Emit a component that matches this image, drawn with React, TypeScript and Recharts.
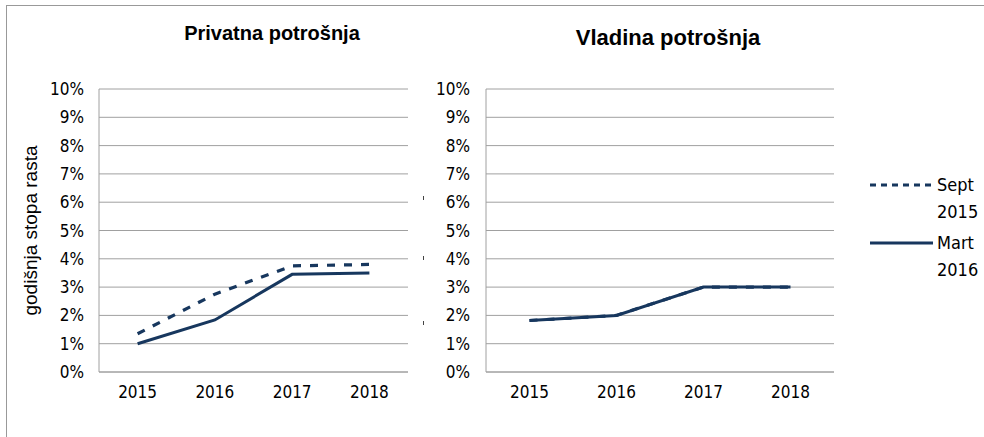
import React from 'react';
import { LineChart, Line, XAxis, YAxis, CartesianGrid } from 'recharts';

const years = ['2015', '2016', '2017', '2018'];
const yTicks = [0, 1, 2, 3, 4, 5, 6, 7, 8, 9, 10];
const privSept = [1.35, 2.75, 3.75, 3.8];
const privMart = [1.0, 1.84, 3.45, 3.5];
const vladSept = [1.82, 2.0, 3.0, 3.0];
const vladMart = [1.82, 2.0, 3.0, 3.0];
const seriesNames = ['Sept 2015', 'Mart 2016'];

const privData = years.map((y, i) => ({ year: y, sept: privSept[i], mart: privMart[i] }));
const vladData = years.map((y, i) => ({ year: y, sept: vladSept[i], mart: vladMart[i] }));

const NAVY = '#17375E';
const GRID = '#A0A0A0';
const FONT = '"Liberation Sans Narrow", "DejaVu Sans Condensed", sans-serif';
const ARIAL = '"Liberation Sans", Arial, sans-serif';
const DASH = '8 9';

const tickStyle = { fill: '#000', fontSize: 17, fontFamily: FONT };

const LegendBox = () => (
  <svg width={114} height={120} style={{ position: 'absolute', left: 870, top: 172 }}>
    {seriesNames.map((name, i) => {
      const y = 13 + i * 58;
      const parts = name.split(' ');
      return (
        <g key={name}>
          <line x1={0} x2={63} y1={y} y2={y} stroke={NAVY} strokeWidth={3} strokeDasharray={i === 0 ? '6 5' : undefined} />
          <text x={67} y={y} dy="0.35em" fontSize={18} fontFamily={FONT} fill="#000">{parts[0]}</text>
          <text x={67} y={y + 27} dy="0.35em" fontSize={18} fontFamily={FONT} fill="#000">{parts[1]}</text>
        </g>
      );
    })}
  </svg>
);

const strayMarks = [198, 258, 323];

export default function App() {
  return (
    <div style={{ position: 'absolute', left: 0, top: 0, width: 984, height: 437, background: '#fff', overflow: 'hidden' }}>
      <div style={{ position: 'absolute', left: 6, top: 5, width: 990, height: 440, borderTop: '1px solid #999', borderLeft: '1px solid #999' }} />
      {strayMarks.map((y) => (
        <div key={y} style={{ position: 'absolute', left: 423, top: y - 2, width: 1, height: 4, background: '#444' }} />
      ))}
      <div style={{ position: 'absolute', left: 172, width: 200, top: 20, textAlign: 'center', fontFamily: ARIAL, fontWeight: 'bold', fontSize: 20, lineHeight: '26px', whiteSpace: 'nowrap' }}>
        Privatna potrošnja
      </div>
      <div style={{ position: 'absolute', left: 568, width: 200, top: 24, textAlign: 'center', fontFamily: ARIAL, fontWeight: 'bold', fontSize: 22, lineHeight: '28px', whiteSpace: 'nowrap' }}>
        Vladina potrošnja
      </div>

      <div style={{ position: 'absolute', left: 0, top: 0 }}>
        <LineChart width={430} height={437} data={privData} margin={{ top: 89, right: 22, bottom: 35, left: 0 }}>
          <CartesianGrid vertical={false} stroke={GRID} strokeWidth={1} />
          <XAxis dataKey="year" height={30} padding={{ left: 38.6, right: 38.6 }} tickLine={false} tickSize={0} tickMargin={14} axisLine={{ stroke: GRID }} tick={tickStyle} interval={0} />
          <YAxis width={99} domain={[0, 10]} ticks={yTicks} tickFormatter={(v) => `${v}%`} tickLine={false} tickSize={0} tickMargin={15} axisLine={{ stroke: GRID }} tick={tickStyle} interval={0}
            label={{ value: 'godišnja stopa rasta', angle: -90, position: 'insideLeft', dx: 25, fontSize: 19, fontFamily: ARIAL, fill: '#000', textAnchor: 'middle' }} />
          <Line dataKey="sept" name={seriesNames[0]} stroke={NAVY} strokeWidth={3.2} strokeDasharray={DASH} dot={false} isAnimationActive={false} />
          <Line dataKey="mart" name={seriesNames[1]} stroke={NAVY} strokeWidth={3} dot={false} isAnimationActive={false} />
        </LineChart>
      </div>

      <div style={{ position: 'absolute', left: 420, top: 0 }}>
        <LineChart width={450} height={437} data={vladData} margin={{ top: 89, right: 36, bottom: 35, left: 0 }}>
          <CartesianGrid vertical={false} stroke={GRID} strokeWidth={1} />
          <XAxis dataKey="year" height={30} padding={{ left: 43.5, right: 43.5 }} tickLine={false} tickSize={0} tickMargin={14} axisLine={{ stroke: GRID }} tick={tickStyle} interval={0} />
          <YAxis width={66} domain={[0, 10]} ticks={yTicks} tickFormatter={(v) => `${v}%`} tickLine={false} tickSize={0} tickMargin={16} axisLine={{ stroke: GRID }} tick={tickStyle} interval={0} />
          <Line dataKey="sept" name={seriesNames[0]} stroke={NAVY} strokeWidth={3.2} strokeDasharray={DASH} dot={false} isAnimationActive={false} />
          <Line dataKey="mart" name={seriesNames[1]} stroke={NAVY} strokeWidth={3} dot={false} isAnimationActive={false} />
        </LineChart>
      </div>

      <LegendBox />
    </div>
  );
}
